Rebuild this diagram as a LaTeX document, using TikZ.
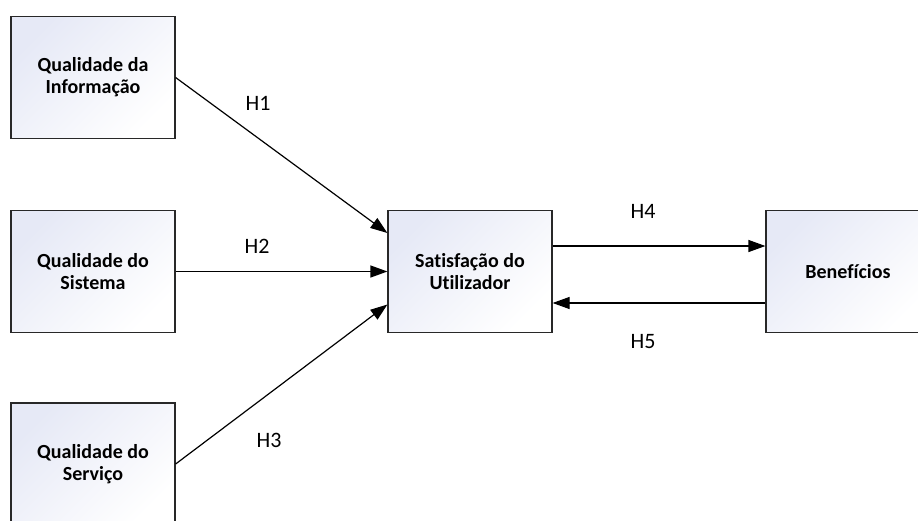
\documentclass[tikz,border=0pt]{standalone}
\usepackage{fontspec}
\setmainfont[Ligatures=NoCommon]{Carlito}
\usepackage{tikz}
\usetikzlibrary{arrows.meta}

\definecolor{boxline}{RGB}{40,40,40}
\definecolor{boxshade}{RGB}{230,233,246}

\begin{document}
\begin{tikzpicture}[x=1pt,y=-1pt,
  construct/.style={draw=boxline,line width=1.2pt,top color=boxshade,bottom color=white,shading angle=45,
    minimum width=164pt,minimum height=122pt,inner sep=0pt,align=center,
    font=\bfseries\fontsize{20}{22}\selectfont},
  hyplabel/.style={inner sep=0pt,font=\fontsize{22}{25}\selectfont},
  hyparrow/.style={draw=black,line width=1.2pt,-{Triangle[length=17pt,width=12pt]}}]
\path[use as bounding box] (0,0) rectangle (918,520);
\clip (0,0) rectangle (918,520);
\path[fill=white,draw=none] (0,0) rectangle (918,520);
% constructs
\node[construct] (info) at (93,77.5) {Qualidade da\\Informação};
\node[construct] (sist) at (93,271.5) {Qualidade do\\Sistema};
\node[construct] (serv) at (93,464) {Qualidade do\\Serviço};
\node[construct] (satis) at (470,271.5) {Satisfação do\\Utilizador};
\node[construct] (benef) at (848,271.5) {Benefícios};
% hypotheses
\draw[hyparrow] (info.east) -- ([yshift=38.5pt]satis.west);
\draw[hyparrow] (sist.east) -- (satis.west);
\draw[hyparrow] (serv.east) -- ([yshift=-33pt]satis.west);
\draw[hyparrow] ([yshift=25.5pt]satis.east) -- ([yshift=25.5pt]benef.west);
\draw[hyparrow] ([yshift=-31.5pt]benef.west) -- ([yshift=-31.5pt]satis.east);
\node[hyplabel] (h1) at (258,103) {H1};
\node[hyplabel] (h2) at (257,246) {H2};
\node[hyplabel] (h3) at (269,440) {H3};
\node[hyplabel] (h4) at (643,211) {H4};
\node[hyplabel] (h5) at (643,342) {H5};
\end{tikzpicture}
\end{document}
